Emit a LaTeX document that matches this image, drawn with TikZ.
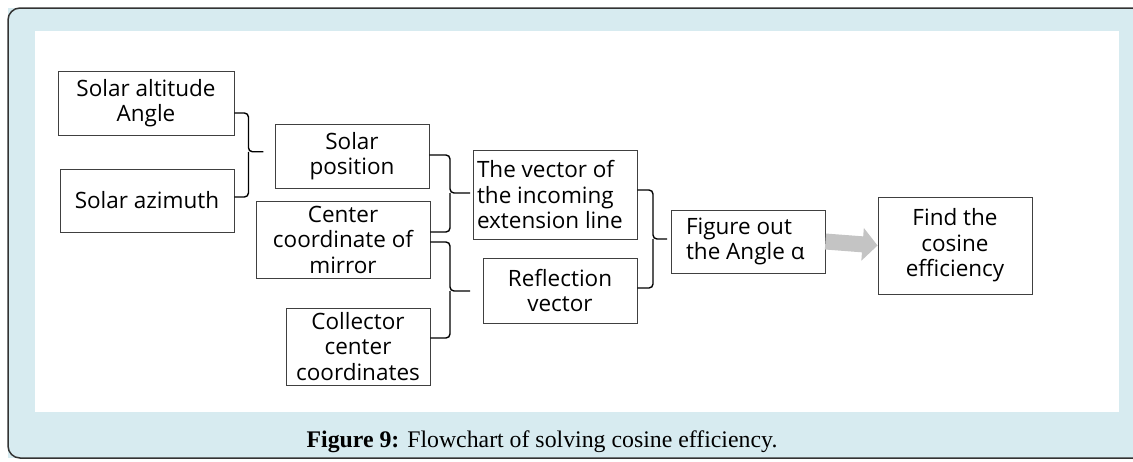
\documentclass[tikz,border=0pt]{standalone}
\usepackage{fontspec}
\setmainfont{Open Sans}
\newfontfamily\capfont{Liberation Serif}
\usetikzlibrary{arrows.meta,calc}
\definecolor{framebg}{HTML}{D7EBF0}
\definecolor{boxline}{HTML}{404040}
\definecolor{arrowgray}{HTML}{C4C4C4}
\tikzset{
  box/.style={draw=boxline, line width=0.9pt, fill=white, align=center, inner sep=0pt,
    font=\fontsize{22.5}{25.5}\selectfont},
  brace/.style={draw=black, line width=1.4pt, rounded corners=4pt},
  blockarrow/.style={draw=arrowgray, line width=16pt,
    -{Triangle[length=15pt,width=32pt]}}
}
\begin{document}
\begin{tikzpicture}[x=1pt,y=-1pt]
\useasboundingbox (0,0) rectangle (1133,461);
\fill[framebg] (8,8) rectangle (1133,458);
\draw[draw=black!80, line width=1.5pt, rounded corners=12pt] (1133,8) -- (8,8) -- (8,458) -- (1133,458);
\fill[white] (35,31) rectangle (1119,412);

\node[box, minimum width=176pt, minimum height=64pt] (a) at (146,103) {Solar altitude\\Angle};
\node[box, minimum width=174pt, minimum height=63pt] (b) at (147,200.5) {Solar azimuth};
\node[box, minimum width=154pt, minimum height=64pt] (c) at (352,156) {Solar\\position};
\node[box, minimum width=174pt, minimum height=77pt] (d) at (343,239.5) {Center\\coordinate of\\mirror};
\node[box, minimum width=144pt, minimum height=77pt] (e) at (358,346.5) {Collector\\center\\coordinates};
\node[box, align=flush left, text width=156pt, inner xsep=4pt, minimum height=89pt] (f) at (555,194.5) {The vector of\\the incoming\\extension line};
\node[box, minimum width=154pt, minimum height=65pt] (g) at (560,290.5) {Reflection\\vector};
\node[box, align=flush left, text width=124pt, inner xsep=15pt, minimum height=63pt] (h) at (748,241.5) {Figure out\\the Angle α};
\node[box, minimum width=154pt, minimum height=97pt] (i) at (955,245.5) {Find the\\cosine\\efficiency};

% braces
\draw[brace] ($(a.east)+(0,10)$) -| ($(a.east)!0.5!(b.east)+(14,0)$) coordinate (t1) -- ++(15,0);
\draw[brace] ($(b.east)+(0,-3.5)$) -| (t1);
\draw[brace] ($(c.east)+(0,-1)$) -| (450,193) coordinate (t2) -- (470,193);
\draw[brace] ($(d.east)+(0,-7.5)$) -| (t2);
\draw[brace] ($(d.east)+(0,2.5)$) -| (450,291) coordinate (t3) -- (470,291);
\draw[brace] ($(e.east)+(0,-8.5)$) -| (t3);
\draw[brace] ($(f.east)+(0,-4.5)$) -| (653,239) coordinate (t4) -- (667,239);
\draw[brace] ($(g.east)+(0,-2.5)$) -| (t4);

\draw[blockarrow] (h.east) -- (i.west);

\node[font=\capfont\fontsize{23.8}{26}\selectfont, anchor=base] (cap) at (542,447)
  {\textbf{Figure 9:} Flowchart of solving cosine efficiency.};
\end{tikzpicture}
\end{document}
